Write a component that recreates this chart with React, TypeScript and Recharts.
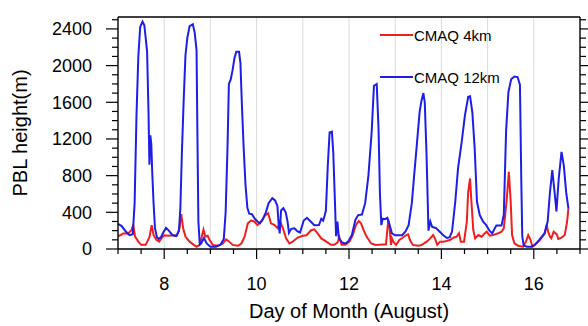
import { LineChart, Line, XAxis, YAxis, ReferenceLine, Legend, Label } from "recharts";

// PBL height, CMAQ 4 km vs 12 km, August 7-17
const blueDays = [
  7.0, 7.08, 7.17, 7.25, 7.32, 7.36, 7.4, 7.44, 7.48, 7.53, 7.57, 7.6, 7.63, 7.66, 7.68, 7.7, 7.72, 7.74, 7.77, 7.8,
  7.84, 7.88, 7.93, 7.98, 8.04, 8.1, 8.18, 8.26, 8.32, 8.35, 8.38, 8.42, 8.46, 8.5, 8.55, 8.62, 8.66, 8.7, 8.72, 8.74,
  8.77, 8.8, 8.86, 8.92, 9.0, 9.12, 9.22, 9.29, 9.33, 9.37, 9.4, 9.44, 9.48, 9.52, 9.56, 9.62, 9.65, 9.68, 9.72, 9.76,
  9.8, 9.84, 9.9, 9.96, 10.02, 10.07, 10.13, 10.2, 10.26, 10.34, 10.4, 10.45, 10.48, 10.5, 10.53, 10.58, 10.63, 10.67, 10.7, 10.75,
  10.82, 10.88, 10.94, 11.02, 11.09, 11.17, 11.25, 11.35, 11.4, 11.44, 11.47, 11.5, 11.54, 11.58, 11.63, 11.66, 11.69, 11.72, 11.75, 11.78,
  11.85, 11.92, 11.98, 12.06, 12.14, 12.2, 12.28, 12.35, 12.42, 12.49, 12.54, 12.6, 12.64, 12.67, 12.7, 12.73, 12.78, 12.83, 12.87, 12.93,
  13.0, 13.15, 13.22, 13.29, 13.36, 13.41, 13.47, 13.53, 13.57, 13.61, 13.64, 13.68, 13.72, 13.76, 13.8, 13.88, 13.96, 14.04, 14.12, 14.18,
  14.23, 14.3, 14.36, 14.44, 14.51, 14.58, 14.62, 14.67, 14.72, 14.77, 14.83, 14.9, 14.97, 15.04, 15.1, 15.15, 15.19, 15.3, 15.35, 15.4,
  15.45, 15.51, 15.58, 15.65, 15.7, 15.73, 15.75, 15.78, 15.85, 15.95, 16.02, 16.12, 16.23, 16.3, 16.35, 16.4, 16.45, 16.49, 16.54, 16.6,
  16.65, 16.7, 16.75,
];
const blueVals = [
  275, 250, 190, 150, 160, 500, 1450, 2100, 2420, 2480, 2440, 2300, 2150, 1500, 920, 1240, 1150, 850, 500, 230,
  130, 110, 130, 180, 230, 200, 150, 140, 200, 450, 1000, 1600, 2110, 2300, 2430, 2450, 2360, 2170, 1200, 300,
  50, 60, 120, 60, 25, 25, 50, 110, 400, 1100, 1800, 1850, 1950, 2080, 2150, 2150, 2030, 1600, 1100, 700,
  450, 385, 380, 330, 300, 280, 320, 400, 500, 555, 530, 470, 250, 170, 420, 445, 400, 300, 175, 220,
  225, 195, 180, 310, 340, 300, 260, 262, 330, 310, 360, 420, 900, 1270, 1280, 1050, 600, 140, 300, 120,
  70, 60, 80, 150, 320, 370, 375, 500, 800, 1270, 1780, 1800, 1300, 600, 260, 330, 325, 340, 280, 170,
  150, 150, 190, 260, 500, 800, 1150, 1500, 1620, 1700, 1600, 1000, 200, 300, 240, 230, 190, 150, 120, 130,
  190, 515, 880, 1170, 1460, 1660, 1665, 1490, 1100, 515, 370, 300, 260, 200, 170, 220, 255, 255, 370, 1280,
  1710, 1850, 1880, 1875, 1790, 730, 140, 40, 25, 25, 45, 100, 170, 300, 620, 860, 620, 410, 770, 1060,
  910, 620, 440,
];

const redDays = [
  7.0, 7.05, 7.11, 7.22, 7.29, 7.33, 7.37, 7.44, 7.5, 7.6, 7.68, 7.73, 7.77, 7.83, 7.89, 7.94, 8.0, 8.09, 8.18, 8.28,
  8.33, 8.37, 8.41, 8.46, 8.55, 8.64, 8.7, 8.77, 8.82, 8.85, 8.89, 8.94, 8.98, 9.05, 9.17, 9.27, 9.34, 9.41, 9.48, 9.6,
  9.67, 9.74, 9.81, 9.88, 9.95, 10.02, 10.1, 10.19, 10.25, 10.31, 10.39, 10.46, 10.51, 10.57, 10.64, 10.71, 10.78, 10.89, 11.0, 11.08,
  11.18, 11.25, 11.32, 11.4, 11.51, 11.61, 11.68, 11.75, 11.79, 11.84, 11.92, 12.01, 12.08, 12.15, 12.21, 12.26, 12.33, 12.38, 12.48, 12.58,
  12.73, 12.8, 12.85, 12.88, 12.91, 12.93, 12.96, 13.02, 13.09, 13.16, 13.24, 13.28, 13.32, 13.38, 13.5, 13.57, 13.68, 13.75, 13.82, 13.86,
  13.91, 13.97, 14.04, 14.11, 14.18, 14.26, 14.33, 14.38, 14.42, 14.49, 14.55, 14.58, 14.62, 14.65, 14.69, 14.73, 14.8, 14.87, 14.94, 14.98,
  15.05, 15.12, 15.16, 15.23, 15.3, 15.35, 15.41, 15.46, 15.5, 15.53, 15.58, 15.66, 15.77, 15.83, 15.88, 15.93, 15.97, 16.02, 16.13, 16.24,
  16.28, 16.31, 16.35, 16.38, 16.43, 16.5, 16.53, 16.6, 16.67, 16.72, 16.75,
];
const redVals = [
  140, 150, 170, 170, 205, 260, 135, 80, 45, 45, 130, 260, 150, 100, 80, 115, 150, 145, 150, 150,
  225, 380, 225, 135, 80, 45, 25, 45, 150, 210, 135, 145, 100, 45, 35, 60, 105, 80, 45, 35,
  60, 135, 280, 310, 300, 260, 300, 370, 390, 280, 260, 225, 300, 225, 115, 60, 80, 125, 145, 150,
  205, 215, 170, 115, 80, 45, 45, 70, 130, 45, 45, 80, 150, 260, 305, 280, 190, 135, 60, 45,
  50, 50, 316, 225, 45, 116, 80, 45, 98, 123, 152, 160, 98, 45, 36, 43, 80, 110, 152, 116,
  45, 80, 80, 87, 98, 123, 134, 171, 80, 80, 297, 624, 769, 515, 207, 116, 152, 134, 171, 188,
  145, 152, 159, 171, 188, 225, 515, 841, 515, 152, 62, 36, 25, 80, 152, 98, 25, 43, 98, 171,
  261, 188, 134, 116, 188, 159, 109, 123, 152, 297, 443,
];

const seriesNames = ["CMAQ 4km", "CMAQ 12km"];
const xTicks = [7, 7.5, 8, 8.5, 9, 9.5, 10, 10.5, 11, 11.5, 12, 12.5, 13, 13.5, 14, 14.5, 15, 15.5, 16, 16.5, 17];
const xMajor = [8, 10, 12, 14, 16];
const yTicks = [
  0, 100, 200, 300, 400, 500, 600, 700, 800, 900, 1000, 1100, 1200, 1300, 1400, 1500, 1600, 1700, 1800, 1900,
  2000, 2100, 2200, 2300, 2400, 2500,
];
const yMajor = [0, 400, 800, 1200, 1600, 2000, 2400];
const gridDays = [8, 9, 10, 11, 12, 13, 14, 15, 16];

const blueData = blueDays.map((d, i) => ({ day: d, pbl: blueVals[i] }));
const redData = redDays.map((d, i) => ({ day: d, pbl: redVals[i] }));

const FONT = '"Liberation Sans", Arial, Helvetica, sans-serif';
const RED = "#f01e1e";
const BLUE = "#1e1ee6";

const BottomTick = ({ x, y, payload }: any) => {
  const major = xMajor.includes(payload.value);
  return (
    <g>
      <line x1={x} x2={x} y1={y} y2={y + (major ? 10 : 5)} stroke="#000" strokeWidth={1.2} />
      {major && (
        <text x={x} y={y + 41} textAnchor="middle" fontSize={18} fontFamily={FONT} fill="#000">
          {payload.value}
        </text>
      )}
    </g>
  );
};

const TopTick = ({ x, y, payload }: any) => {
  const major = xMajor.includes(payload.value);
  return <line x1={x} x2={x} y1={y} y2={y - (major ? 10 : 5)} stroke="#000" strokeWidth={1.2} />;
};

const LeftTick = ({ x, y, payload }: any) => {
  const major = yMajor.includes(payload.value);
  return (
    <g>
      <line x1={x - (major ? 12 : 6)} x2={x} y1={y} y2={y} stroke="#000" strokeWidth={1.2} />
      {major && (
        <text x={x - 26} y={y} dy="0.36em" textAnchor="end" fontSize={18} fontFamily={FONT} fill="#000">
          {payload.value}
        </text>
      )}
    </g>
  );
};

const RightTick = ({ x, y, payload }: any) => {
  const major = yMajor.includes(payload.value);
  return <line x1={x} x2={x + (major ? 12 : 6)} y1={y} y2={y} stroke="#000" strokeWidth={1.2} />;
};

const YTitle = ({ viewBox }: any) => {
  const cx = viewBox.x + 27;
  const cy = viewBox.y + viewBox.height / 2;
  return (
    <text x={cx} y={cy} transform={`rotate(-90, ${cx}, ${cy})`} textAnchor="middle" fontSize={20} fontFamily={FONT} fill="#000">
      PBL height(m)
    </text>
  );
};

const XTitle = ({ viewBox }: any) => (
  <text x={viewBox.x + viewBox.width / 2} y={viewBox.y + 69} textAnchor="middle" fontSize={20} fontFamily={FONT} fill="#000">
    Day of Month (August)
  </text>
);

// legend rows in series order (4km first)
const LegendBox = ({ payload }: any) => {
  const items = [...(payload || [])].sort(
    (a: any, b: any) => seriesNames.indexOf(a.value) - seriesNames.indexOf(b.value)
  );
  return (
    <div style={{ fontFamily: FONT, fontSize: 15, color: "#000" }}>
      {items.map((p: any) => (
        <div key={p.value} style={{ display: "flex", alignItems: "center", height: 42 }}>
          <svg width={33} height={4} style={{ display: "block" }}>
            <line x1={0} x2={33} y1={2} y2={2} stroke={p.color} strokeWidth={2} />
          </svg>
          <span style={{ marginLeft: 1 }}>{p.value}</span>
        </div>
      ))}
    </div>
  );
};

export default function App() {
  const axisLine = { stroke: "#000", strokeWidth: 1.4 };
  return (
    <div style={{ position: "absolute", left: 0, top: 0, width: 588, height: 326, background: "#fff" }}>
      <LineChart width={588} height={326} margin={{ top: 16, right: 7, bottom: 0, left: 0 }}>
        <XAxis
          xAxisId="b"
          dataKey="day"
          type="number"
          domain={[7, 17]}
          ticks={xTicks}
          interval={0}
          allowDataOverflow
          height={77}
          tickSize={0}
          tickMargin={0}
          tickLine={false}
          axisLine={axisLine}
          tick={<BottomTick />}
        >
          <Label content={<XTitle />} />
        </XAxis>
        <XAxis
          xAxisId="t"
          orientation="top"
          type="number"
          domain={[7, 17]}
          ticks={xTicks}
          interval={0}
          allowDataOverflow
          height={1}
          tickSize={0}
          tickMargin={0}
          tickLine={false}
          axisLine={axisLine}
          tick={<TopTick />}
        />
        <YAxis
          yAxisId="l"
          type="number"
          domain={[0, 2530]}
          ticks={yTicks}
          interval={0}
          allowDataOverflow
          width={118}
          tickSize={0}
          tickMargin={0}
          tickLine={false}
          axisLine={axisLine}
          tick={<LeftTick />}
        >
          <Label content={<YTitle />} />
        </YAxis>
        <YAxis
          yAxisId="r"
          orientation="right"
          type="number"
          domain={[0, 2530]}
          ticks={yTicks}
          interval={0}
          allowDataOverflow
          width={1}
          tickSize={0}
          tickMargin={0}
          tickLine={false}
          axisLine={axisLine}
          tick={<RightTick />}
        />
        {gridDays.map((d) => (
          <ReferenceLine key={d} x={d} xAxisId="b" yAxisId="l" stroke="#dadada" strokeWidth={1} />
        ))}
        <Line
          xAxisId="b"
          yAxisId="l"
          data={redData}
          dataKey="pbl"
          name={seriesNames[0]}
          type="linear"
          stroke={RED}
          strokeWidth={2}
          dot={false}
          isAnimationActive={false}
        />
        <Line
          xAxisId="b"
          yAxisId="l"
          data={blueData}
          dataKey="pbl"
          name={seriesNames[1]}
          type="linear"
          stroke={BLUE}
          strokeWidth={2}
          dot={false}
          isAnimationActive={false}
        />
        <Legend
          layout="vertical"
          align="center"
          verticalAlign="middle"
          content={<LegendBox />}
          wrapperStyle={{ position: "absolute", left: 380, top: 14, width: 200 }}
        />
      </LineChart>
    </div>
  );
}
